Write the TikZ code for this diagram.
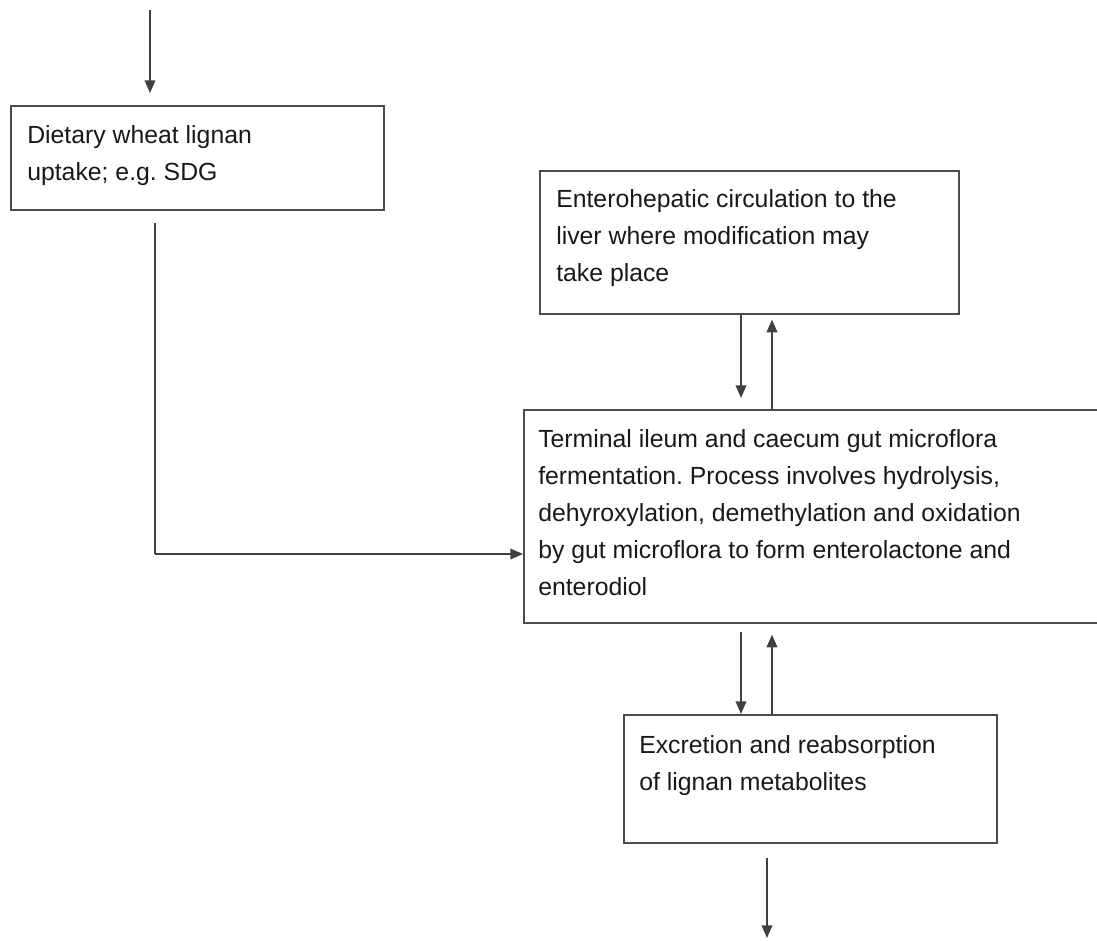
\documentclass[tikz,border=0pt]{standalone}
\usepackage{fontspec}
\setmainfont{Liberation Sans}
\usetikzlibrary{arrows.meta,calc}
\newcommand{\firststrut}{\rule{0pt}{14pt}}
\tikzset{
  box/.style={draw=black!70, line width=1.2pt, rectangle, inner sep=0pt, anchor=north west},
  txt/.style={anchor=north west, inner sep=0pt, align=left, text=black!90,
    font=\fontsize{18.6pt}{27.75pt}\selectfont\frenchspacing},
  arr/.style={draw=black!75, line width=1.2pt, -{Triangle[length=9.5pt,width=8pt]}},
  ln/.style={draw=black!75, line width=1.2pt}
}
\begin{document}
\begin{tikzpicture}[x=0.75pt,y=-0.75pt]
\useasboundingbox (0,0) rectangle (1097,940);
\clip (0,0) rectangle (1097,940);
% boxes
\node[box, minimum width=373*0.75pt, minimum height=104*0.75pt] (b1) at (10,105) {};
\node[box, minimum width=419*0.75pt, minimum height=143*0.75pt] (b2) at (539,170) {};
\node[box, minimum width=587*0.75pt, minimum height=213*0.75pt] (b3) at (523,409) {};
\node[box, minimum width=373*0.75pt, minimum height=128*0.75pt] (b4) at (623,714) {};
% texts (top = first baseline - 18.67px)
\node[txt] (t1) at (27,124.3) {\firststrut Dietary wheat lignan\\uptake; e.g. SDG};
\node[txt] (t2) at (556,188.3) {\firststrut Enterohepatic circulation to the\\liver where modification may\\take place};
\node[txt] (t3) at (538,428.3) {\firststrut Terminal ileum and caecum gut microflora\\fermentation. Process involves hydrolysis,\\dehyroxylation, demethylation and oxidation\\by gut microflora to form enterolactone and\\enterodiol};
\node[txt] (t4) at (639,734.3) {\firststrut Excretion and reabsorption\\of lignan metabolites};
% free ends
\coordinate (in) at (150,10);
\coordinate (out) at (767,938);
\coordinate (feed) at (155,223);
\coordinate (corner) at (155,554);
\coordinate (xa) at (741,0);
\coordinate (xb) at (772,0);
\coordinate (xc) at (767,0);
% connectors
\draw[arr, shorten >=9pt] (in) -- (in |- b1.north);
\draw[ln] (feed) -- (corner);
\draw[arr] (corner) -- (corner -| b3.west);
\draw[arr, shorten >=8.25pt] (xa |- b2.south) -- (xa |- b3.north);
\draw[arr, shorten >=3.75pt] (xb |- b3.north) -- (xb |- b2.south);
\draw[arr] (xa |- b3.south) ++(0,8) -- (xa |- b4.north);
\draw[arr, shorten >=8.25pt] (xb |- b4.north) -- (xb |- b3.south);
\draw[arr] (xc |- b4.south) ++(0,14) -- (out);
\end{tikzpicture}
\end{document}
